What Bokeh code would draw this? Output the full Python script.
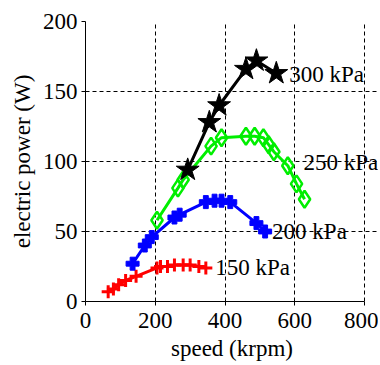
from bokeh.plotting import figure
from bokeh.models import FixedTicker, Label
from bokeh.embed import file_html
from bokeh.resources import INLINE

x150 = [65, 80, 95, 115, 145, 205, 215, 235, 255, 280, 300, 325, 345]
y150 = [7, 9, 12, 15, 18, 24, 25, 25, 26, 26, 26, 25, 24]
x200 = [135, 170, 190, 255, 270, 345, 370, 390, 415, 490, 515]
y200 = [27, 40, 46, 60, 62, 71, 72, 72, 71, 56, 50]
x250 = [205, 265, 280, 360, 390, 460, 485, 510, 525, 540, 580, 605, 628]
y250 = [58, 81, 87, 111, 117, 118, 118, 117, 112, 107, 97, 84, 73]
x300 = [293, 355, 383, 460, 490, 547]
y300 = [94, 128, 140, 166, 172, 163]
labels = ["150 kPa", "200 kPa", "250 kPa", "300 kPa"]
label_x = [372, 535, 625, 584]
label_y = [24, 50, 99, 162]
xticks = [0, 200, 400, 600, 800]
yticks = [0, 50, 100, 150, 200]

FONT = "Liberation Serif"
FS = "23px"

p = figure(output_backend="svg", toolbar_location=None,
           width=378, height=364,
           min_border_left=85, min_border_top=21, min_border_right=0, min_border_bottom=63,
           x_range=(0, 840), y_range=(0, 200))
p.outline_line_color = None
p.background_fill_color = "white"

for ax in (p.xaxis[0], p.yaxis[0]):
    ax.major_label_text_font = FONT
    ax.major_label_text_font_size = FS
    ax.axis_label_text_font = FONT
    ax.axis_label_text_font_size = FS
    ax.axis_label_text_font_style = "normal"
    ax.major_tick_in = 0
    ax.major_tick_out = 4
    ax.minor_tick_line_color = None
    ax.axis_line_color = "black"
    ax.major_tick_line_color = "black"
    ax.major_label_text_color = "black"
    ax.axis_label_text_color = "black"

p.xaxis.ticker = FixedTicker(ticks=xticks)
p.yaxis.ticker = FixedTicker(ticks=yticks)
p.xaxis.bounds = (0, 800)
p.xaxis.axis_label = "speed (krpm)"
p.yaxis.axis_label = "electric power (W)"
p.xaxis.major_label_standoff = 7
p.yaxis.major_label_standoff = 4
p.xaxis.axis_label_standoff = 5
p.yaxis.axis_label_standoff = 5

for g in (p.xgrid[0], p.ygrid[0]):
    g.grid_line_color = "black"
    g.grid_line_dash = "4 3"
    g.grid_line_width = 1
p.ygrid[0].bounds = (0, 800)

p.line(x150, y150, color="#ff0000", line_width=3)
p.scatter(x150, y150, marker="cross", size=13, line_color="#ff0000", line_width=3)

p.line(x200, y200, color="#0000ff", line_width=3)
p.scatter(x200, y200, marker="plus", size=13, fill_color="#0000ff", line_color="#0000ff", line_width=1)

p.line(x250, y250, color="#00ee00", line_width=3)
p.scatter(x250, y250, marker="diamond", size=17, fill_color=None, line_color="#00ee00", line_width=2.5)

p.line(x300, y300, color="black", line_width=3)
p.scatter(x300, y300, marker="star", size=24, fill_color="black", line_color="black")

for t, lx, ly in zip(labels, label_x, label_y):
    p.add_layout(Label(x=lx, y=ly, text=t, text_font=FONT, text_font_size=FS,
                       text_baseline="middle", text_align="left", text_color="black"))

open("out.html", "w").write(file_html(p, INLINE))
